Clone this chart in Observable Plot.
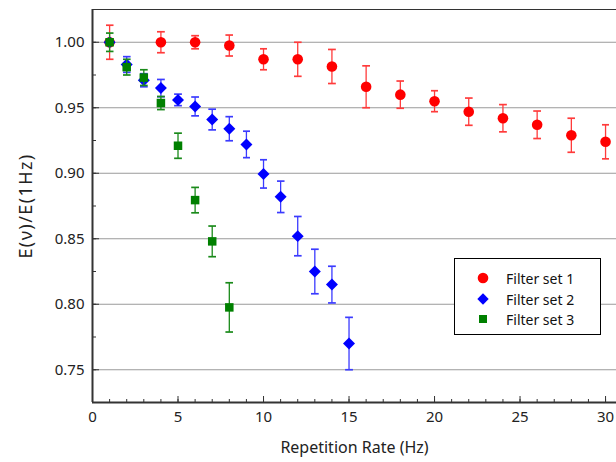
<!DOCTYPE html>
<html>
<head>
<meta charset="utf-8">
<script src="https://cdn.jsdelivr.net/npm/d3@7"></script>
<script src="https://cdn.jsdelivr.net/npm/@observablehq/plot@0.6"></script>
<style>
  html, body { margin: 0; padding: 0; background: #fff; }
  #wrap { position: relative; width: 616px; height: 462px; overflow: hidden; font-family: "Noto Sans", sans-serif; }
  #legend { position: absolute; left: 454px; top: 258px; width: 147px; height: 77px; border: 1px solid #000; background: #fff; box-sizing: border-box; }
  .row { position: absolute; left: 0; height: 20px; display: flex; align-items: center; font-size: 14px; color: #111; }
  .row svg { margin-left: 21px; margin-right: 16px; }
  .ytitle text { letter-spacing: 1.4px; }
</style>
</head>
<body>
<div id="wrap"></div>
<script>
// Filter set 1
const set1X = [1, 4, 6, 8, 10, 12, 14, 16, 18, 20, 22, 24, 26, 28, 30];
const set1Y = [1.000, 1.000, 1.000, 0.9975, 0.987, 0.987, 0.9815, 0.966, 0.960, 0.955, 0.947, 0.942, 0.937, 0.929, 0.924];
const set1E = [0.013, 0.008, 0.005, 0.008, 0.008, 0.013, 0.013, 0.016, 0.0104, 0.008, 0.0104, 0.0104, 0.0105, 0.013, 0.013];
// Filter set 2
const set2X = [1, 2, 3, 4, 5, 6, 7, 8, 9, 10, 11, 12, 13, 14, 15];
const set2Y = [1.000, 0.983, 0.971, 0.965, 0.956, 0.951, 0.941, 0.934, 0.922, 0.8995, 0.882, 0.852, 0.825, 0.815, 0.770];
const set2E = [0, 0.006, 0.005, 0.0066, 0.0044, 0.0072, 0.0079, 0.0092, 0.0101, 0.0108, 0.012, 0.015, 0.017, 0.014, 0.020];
// Filter set 3
const set3X = [1, 2, 3, 4, 5, 6, 7, 8];
const set3Y = [1.000, 0.981, 0.973, 0.9536, 0.921, 0.8795, 0.848, 0.7976];
const set3E = [0.007, 0.006, 0.006, 0.005, 0.0096, 0.0097, 0.0117, 0.0188];

const seriesNames = ["Filter set 1", "Filter set 2", "Filter set 3"];
const seriesColors = ["#ff0000", "#0000ff", "#008000"];
const barColors = ["#ff3b3b", "#3b3bff", "#1a8a1a"];

const xMajor = [0, 5, 10, 15, 20, 25, 30];
const xMinor = d3.range(0, 31, 1);
const yMajor = [0.75, 0.80, 0.85, 0.90, 0.95, 1.00];
const yMinor = d3.range(0, 13).map(i => +(0.725 + i * 0.025).toFixed(3));

const toRows = (X, Y, E) => X.map((x, i) => ({x, y: Y[i], lo: Y[i] - E[i], hi: Y[i] + E[i], e: E[i]}));
const s1 = toRows(set1X, set1Y, set1E);
const s2 = toRows(set2X, set2Y, set2E);
const s3 = toRows(set3X, set3Y, set3E);

const bars = (data, c) => Plot.link(data.filter(d => d.e > 0), {x1: "x", x2: "x", y1: "lo", y2: "hi", stroke: c, strokeWidth: 1.3, marker: "tick"});

const chart = Plot.plot({
  width: 616,
  height: 462,
  marginLeft: 92,
  marginRight: 0,
  marginTop: 9,
  marginBottom: 60,
  style: {fontFamily: "Noto Sans, sans-serif", background: "#fff", overflow: "visible"},
  x: {domain: [0, 30.64]},
  y: {domain: [0.725, 1.025]},
  marks: [
    Plot.ruleY(yMajor, {stroke: "#9a9a9a", strokeWidth: 1}),
    // axis labels
    Plot.axisY(yMajor, {tickSize: 0, tickPadding: 8, tickFormat: d3.format(".2f"), fontSize: 15, fill: "#222", label: null}),
    Plot.axisX(xMajor, {tickSize: 0, tickPadding: 9, tickFormat: d3.format("d"), fontSize: 15, fill: "#222", label: null}),
    // inward ticks
    Plot.axisY(yMajor, {tickSize: -7, text: null, label: null, stroke: "#333"}),
    Plot.axisY(yMinor, {tickSize: -4, text: null, label: null, stroke: "#333"}),
    Plot.axisX(xMajor, {tickSize: -6, text: null, label: null, stroke: "#333"}),
    Plot.axisX(xMinor, {tickSize: -3, text: null, label: null, stroke: "#333"}),
    Plot.frame({stroke: "#333", strokeWidth: 1}),
    Plot.ruleX([0], {stroke: "#333", strokeWidth: 2}),
    Plot.ruleY([0.725], {stroke: "#333", strokeWidth: 2}),
    // data
    bars(s1, barColors[0]),
    Plot.dot(s1, {x: "x", y: "y", r: 5.3, symbol: "circle", fill: seriesColors[0], stroke: "none"}),
    bars(s2, barColors[1]),
    Plot.dot(s2, {x: "x", y: "y", r: 5.4, symbol: "diamond2", fill: seriesColors[1], stroke: "none"}),
    bars(s3, barColors[2]),
    Plot.dot(s3, {x: "x", y: "y", r: 4.8, symbol: "square", fill: seriesColors[2], stroke: "none"}),
    // titles
    Plot.text(["Repetition Rate (Hz)"], {frameAnchor: "bottom", dy: 50, fontSize: 16, fill: "#222"}),
    Plot.text(["E(ν)/E(1Hz)"], {frameAnchor: "left", textAnchor: "middle", lineAnchor: "middle", dx: -66, rotate: -90, fontSize: 18, fill: "#222", className: "ytitle"})
  ]
});

const wrap = document.getElementById("wrap");
wrap.appendChild(chart);

// legend
const legend = document.createElement("div");
legend.id = "legend";
const symbolPaths = [
  '<circle cx="7" cy="7" r="5.3" fill="' + seriesColors[0] + '"/>',
  '<path d="M7,1.3L12.7,7L7,12.7L1.3,7Z" fill="' + seriesColors[1] + '"/>',
  '<rect x="3" y="3" width="8" height="8" fill="' + seriesColors[2] + '"/>'
];
const rowTops = [9, 30, 50];
seriesNames.forEach((name, i) => {
  const row = document.createElement("div");
  row.className = "row";
  row.style.top = rowTops[i] + "px";
  row.innerHTML = '<svg width="14" height="14" viewBox="0 0 14 14">' + symbolPaths[i] + '</svg><span>' + name + '</span>';
  legend.appendChild(row);
});
wrap.appendChild(legend);
</script>
</body>
</html>
